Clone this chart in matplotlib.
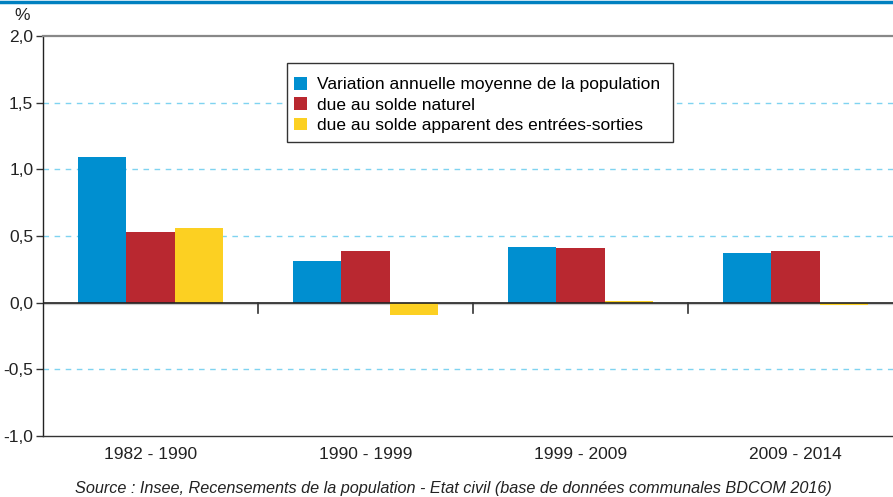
import matplotlib
matplotlib.use("Agg")
import matplotlib.pyplot as plt
from matplotlib.patches import Rectangle
import numpy as np

plt.rcParams['font.family'] = ['Liberation Sans', 'DejaVu Sans']

categories = ["1982 - 1990", "1990 - 1999", "1999 - 2009", "2009 - 2014"]
variation = [1.09, 0.31, 0.42, 0.37]
solde_naturel = [0.53, 0.39, 0.41, 0.39]
solde_migratoire = [0.56, -0.09, 0.01, -0.02]
series_labels = ["Variation annuelle moyenne de la population",
                 "due au solde naturel",
                 "due au solde apparent des entrées-sorties"]
colors = ["#008fd0", "#b92830", "#fcd022"]
yticks = [-1.0, -0.5, 0.0, 0.5, 1.0, 1.5, 2.0]
ytick_labels = ["-1,0", "-0,5", "0,0", "0,5", "1,0", "1,5", "2,0"]

W, H = 893, 497
fig = plt.figure(figsize=(W/100, H/100), dpi=100)
# axes: x 43..903 px, y 36..436 px
ax = fig.add_axes([43/W, 1-436/H, 860/W, 400/H])

x = np.arange(len(categories))
bw = 0.2233
for i, (vals, lab, c) in enumerate(zip([variation, solde_naturel, solde_migratoire], series_labels, colors)):
    ax.bar(x + (i-1)*bw, vals, width=bw, color=c, label=lab, zorder=3)

ax.set_xlim(-0.5, len(categories)-0.5)
ax.set_ylim(-1.0, 2.0)
ax.set_yticks(yticks)
ax.set_yticklabels(ytick_labels, fontsize=12.5, color="#222222")
ax.set_xticks(x)
ax.set_xticklabels(categories, fontsize=12.5, color="#222222")
ax.tick_params(axis='x', length=0, pad=8)
ax.tick_params(axis='y', length=5, width=1, color="#333333", pad=2)

for y in [-0.5, 0.5, 1.0, 1.5]:
    ax.axhline(y, color="#7fd3f0", lw=1, ls=(0, (4, 4)), zorder=1)

# zero line with shadow
ax.axhline(-0.012, color="#cccccc", lw=1.6, zorder=2)
ax.axhline(0, color="#222222", lw=1.2, zorder=4)
# category boundary ticks below zero line
for b in np.arange(0.5, len(categories)-0.5, 1.0):
    ax.plot([b, b], [0, -0.075], color="#333333", lw=1.2, zorder=4, clip_on=False)

ax.spines['right'].set_visible(False)
ax.spines['top'].set_color("#888888")
ax.spines['top'].set_linewidth(1.6)
ax.spines['left'].set_color("#222222")
ax.spines['bottom'].set_color("#333333")
ax.spines['left'].set_linewidth(1)
ax.spines['bottom'].set_linewidth(1)

# legend box (drawn in figure pixel coordinates, inside the axes' draw order)
box = Rectangle((287/W, 1-142/H), (673-287)/W, (142-63)/H,
                transform=fig.transFigure, facecolor="white",
                edgecolor="#333333", lw=1, zorder=5, clip_on=False)
ax.add_artist(box)
leg = ax.legend(loc='upper left', bbox_to_anchor=((294-43)/860, (436-77)/400),
                fontsize=12.5, frameon=False,
                handlelength=0.75, handleheight=0.75, handletextpad=0.55,
                labelspacing=0.28, borderpad=0, borderaxespad=0)
leg.set_zorder(6)

# top blue rule
fig.add_artist(plt.Line2D([0, 1], [1-1.5/H, 1-1.5/H], color="#0080c0", lw=2.5))
fig.text(22/W, 1-16/H, "%", fontsize=12.5, color="#222222", ha='center', va='center')
fig.text(453/W, 1-488/H,
         "Source : Insee, Recensements de la population - Etat civil (base de données communales BDCOM 2016)",
         fontsize=11.7, style='italic', color="#222222", ha='center', va='center')

fig.savefig("out.png", dpi=100)
